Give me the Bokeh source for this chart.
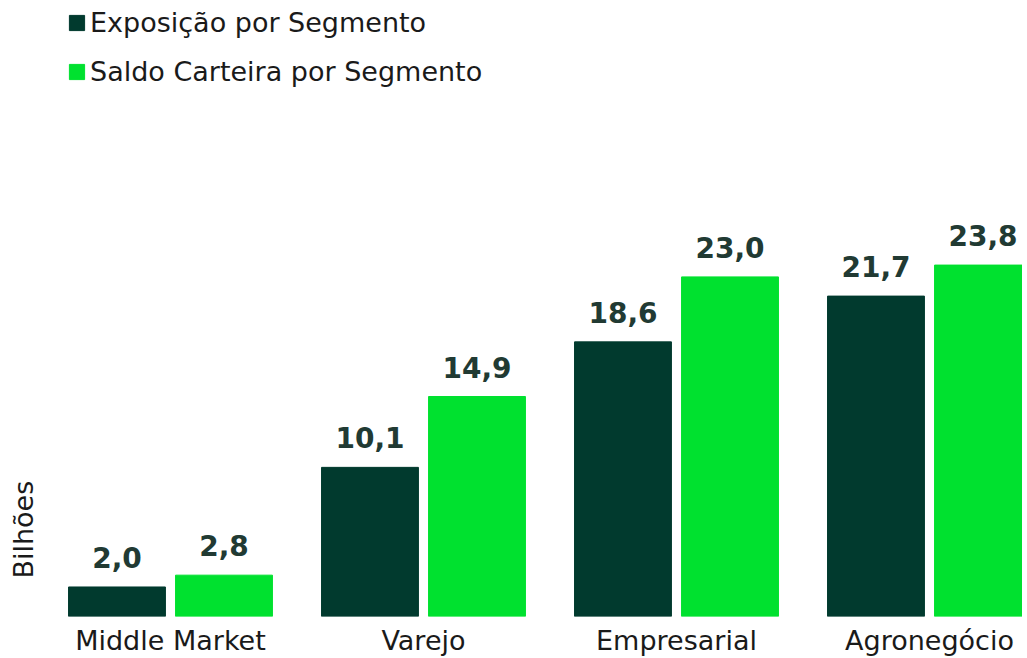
from bokeh.plotting import figure
from bokeh.models import Range1d, FixedTicker, ColumnDataSource, LabelSet, Label, Legend, LegendItem
from bokeh.transform import dodge
from bokeh.core.properties import value
from bokeh.embed import file_html
from bokeh.resources import INLINE

categories = ["Middle Market", "Varejo", "Empresarial", "Agronegócio"]
exposicao = [2.0, 10.1, 18.6, 21.7]
saldo = [2.8, 14.9, 23.0, 23.8]
series_names = ["Exposição por Segmento", "Saldo Carteira por Segmento"]
y_title = "Bilhões"

DARK = "#013a2e"
BRIGHT = "#00e12f"
LABEL_C = "#213a33"
TEXT_C = "#1a1a1a"
FONT = "DejaVu Sans"

xpos = list(range(len(categories)))
src = ColumnDataSource(dict(
    x=xpos,
    exp=exposicao,
    sal=saldo,
    exp_lbl=[f"{v:.1f}".replace(".", ",") for v in exposicao],
    sal_lbl=[f"{v:.1f}".replace(".", ",") for v in saldo],
))

p = figure(width=1022, height=658, output_backend="svg", toolbar_location=None,
           x_range=Range1d(-0.6719, 3.3676), y_range=Range1d(0, 41.72),
           min_border_left=0, min_border_right=0, min_border_top=0, min_border_bottom=0)
p.outline_line_color = None
p.grid.visible = False
p.yaxis.visible = False
p.background_fill_color = "white"

w = 0.383
r1 = p.vbar(x=dodge("x", -0.2115, range=p.x_range), top="exp", width=w, source=src,
            fill_color=DARK, line_color=DARK)
r2 = p.vbar(x=dodge("x", 0.2115, range=p.x_range), top="sal", width=w, source=src,
            fill_color=BRIGHT, line_color=BRIGHT)

for col, off in (("exp", -0.2115), ("sal", 0.2115)):
    ls = LabelSet(x=dodge("x", off, range=p.x_range), y=col, text=col + "_lbl", source=src,
                  text_align="center", text_baseline="alphabetic", y_offset=19,
                  text_font=value(FONT), text_font_style="bold",
                  text_font_size="28px", text_color=LABEL_C)
    p.add_layout(ls)

ax = p.xaxis[0]
ax.ticker = FixedTicker(ticks=xpos)
ax.major_label_overrides = {i: c for i, c in enumerate(categories)}
ax.axis_line_color = None
ax.major_tick_line_color = None
ax.minor_tick_line_color = None
ax.major_tick_out = 0
ax.major_tick_in = 0
ax.axis_label_standoff = 0
ax.axis_label_text_font_size = "0px"
ax.major_label_text_font = FONT
ax.major_label_text_font_size = "27px"
ax.major_label_text_color = TEXT_C
ax.major_label_standoff = 8

p.add_layout(Label(x=-0.581, y=5.88, text=y_title, angle=1.5708,
                   text_align="center", text_baseline="middle",
                   text_font=FONT, text_font_size="27px", text_color=TEXT_C))

legend = Legend(items=[LegendItem(label=series_names[0], renderers=[r1]),
                       LegendItem(label=series_names[1], renderers=[r2])],
                location=(67, 529), orientation="vertical",
                glyph_width=19, glyph_height=19, label_standoff=4,
                label_height=31, spacing=18, padding=0, margin=0,
                border_line_color=None, background_fill_alpha=0,
                label_text_font=FONT, label_text_font_size="27px", label_text_color=TEXT_C)
p.add_layout(legend)

open("out.html", "w").write(file_html(p, INLINE))
